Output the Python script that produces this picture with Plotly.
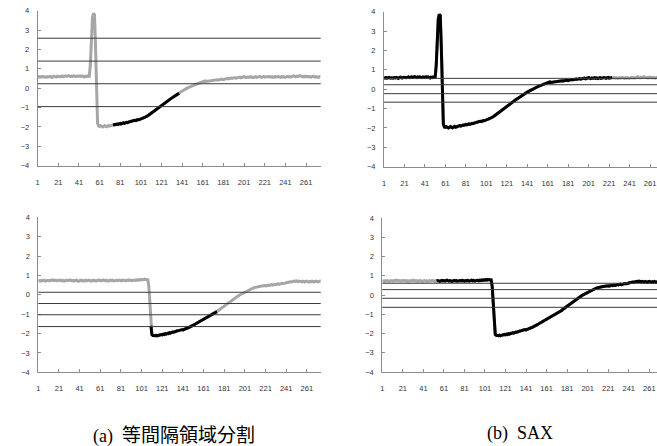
import plotly.graph_objects as go

# ---------------- data ----------------
series_a = [
    0.62, 0.58, 0.60, 0.57, 0.59, 0.61, 0.58, 0.60, 0.59, 0.57,
    0.60, 0.58, 0.61, 0.59, 0.56, 0.60, 0.62, 0.59, 0.58, 0.61,
    0.60, 0.62, 0.59, 0.61, 0.63, 0.60, 0.62, 0.64, 0.61, 0.63,
    0.65, 0.62, 0.60, 0.63, 0.61, 0.64, 0.62, 0.60, 0.63, 0.61,
    0.62, 0.64, 0.61, 0.63, 0.60, 0.58, 0.62, 0.60, 0.63, 0.61,
    0.62,
    1.20, 2.60, 3.60, 3.86, 3.80, 2.20, -0.60,
    -1.80, -1.95,
    -1.97, -1.94, -1.98, -2.00, -1.96, -1.93, -1.97, -1.99, -1.95, -1.92,
    -1.96, -1.94, -1.91, -1.90,
    -1.88, -1.90, -1.86, -1.85, -1.87, -1.83, -1.82, -1.84, -1.80, -1.79,
    -1.81, -1.77, -1.76, -1.78, -1.74, -1.73, -1.72, -1.70, -1.71, -1.68,
    -1.66, -1.67, -1.64, -1.62, -1.63, -1.60,
    -1.58, -1.57, -1.55, -1.52, -1.50, -1.48, -1.45, -1.41, -1.37, -1.33,
    -1.28, -1.24, -1.19, -1.14, -1.10, -1.05, -1.01, -0.97, -0.93, -0.89,
    -0.85, -0.82, -0.78, -0.75, -0.70, -0.67, -0.64, -0.60, -0.57, -0.53,
    -0.50, -0.47, -0.43, -0.40, -0.36, -0.33, -0.29, -0.26,
    -0.22, -0.19, -0.15, -0.12, -0.08, -0.05, -0.02, 0.01, 0.04, 0.06,
    0.09, 0.11, 0.13, 0.15, 0.17, 0.19, 0.21, 0.23, 0.24, 0.26,
    0.28, 0.30,
    0.32, 0.36, 0.38, 0.35, 0.36, 0.38, 0.37, 0.39, 0.41, 0.40,
    0.42, 0.41, 0.43, 0.45, 0.44, 0.43, 0.46, 0.45, 0.47, 0.46,
    0.44, 0.47, 0.49, 0.48, 0.50, 0.49, 0.51, 0.50, 0.52, 0.51,
    0.53, 0.55, 0.52, 0.54, 0.56, 0.55, 0.57, 0.54, 0.56, 0.58,
    0.60, 0.57, 0.55, 0.58, 0.56, 0.57, 0.59, 0.56, 0.58, 0.55,
    0.57, 0.59, 0.56, 0.58, 0.57, 0.60, 0.58, 0.56, 0.59, 0.61,
    0.57, 0.59, 0.58, 0.60,
    0.58, 0.60, 0.57, 0.59, 0.56, 0.58, 0.60, 0.57, 0.59, 0.61,
    0.58, 0.56, 0.59, 0.57, 0.60, 0.58, 0.56, 0.59, 0.61, 0.58,
    0.60, 0.57, 0.59, 0.62, 0.64, 0.61, 0.59, 0.62, 0.60, 0.63,
    0.65, 0.62, 0.60, 0.58, 0.61, 0.59, 0.62, 0.60, 0.58, 0.61,
    0.59, 0.57, 0.60, 0.62, 0.59, 0.57, 0.60, 0.58, 0.56, 0.59,
    0.57,
]

series_b = [
    0.70, 0.73, 0.71, 0.74, 0.72, 0.75, 0.73, 0.71, 0.74, 0.76,
    0.74, 0.72, 0.75, 0.77, 0.74, 0.76, 0.73, 0.75, 0.72, 0.74,
    0.76, 0.73, 0.75, 0.72, 0.74, 0.71, 0.73, 0.75, 0.72, 0.74,
    0.77, 0.73, 0.75, 0.72, 0.74, 0.71, 0.73, 0.76, 0.72, 0.70,
    0.73, 0.75, 0.72, 0.74, 0.71, 0.73, 0.75, 0.72, 0.74, 0.76,
    0.73, 0.71, 0.74, 0.72, 0.75, 0.73, 0.71, 0.74, 0.76, 0.73,
    0.75, 0.72, 0.74, 0.77, 0.74, 0.72, 0.75, 0.73, 0.71, 0.74,
    0.76, 0.73, 0.75, 0.72, 0.74, 0.77, 0.75, 0.73, 0.76, 0.74,
    0.72, 0.75, 0.73, 0.76, 0.74, 0.72, 0.75, 0.77, 0.74, 0.76,
    0.73, 0.75, 0.78, 0.76, 0.74, 0.77, 0.75, 0.78, 0.76, 0.79,
    0.77, 0.80, 0.78, 0.81, 0.79, 0.80, 0.78,
    0.45, -0.60, -1.60, -2.05,
    -2.10, -2.12, -2.11, -2.09, -2.12, -2.10, -2.08, -2.10, -2.05, -2.07,
    -2.03,
    -2.05, -2.01, -2.03, -1.99, -2.00, -1.96, -1.98, -1.94, -1.92, -1.93,
    -1.90, -1.88, -1.87,
    -1.86, -1.84, -1.85, -1.82, -1.80, -1.81, -1.78, -1.76, -1.74, -1.72,
    -1.70, -1.68, -1.66, -1.63, -1.60,
    -1.57, -1.54, -1.51, -1.48, -1.45, -1.42, -1.39, -1.35, -1.31, -1.27,
    -1.24, -1.21, -1.18, -1.15, -1.12, -1.09, -1.06, -1.03, -1.00, -0.98,
    -0.95, -0.92, -0.90, -0.87,
    -0.83, -0.79, -0.74, -0.70, -0.66, -0.61, -0.57, -0.53, -0.48, -0.44,
    -0.40, -0.36, -0.32, -0.28, -0.25, -0.21, -0.18, -0.14, -0.11, -0.07,
    -0.04, -0.01, 0.02, 0.05, 0.08, 0.11, 0.15, 0.18, 0.21, 0.23,
    0.26, 0.28, 0.30, 0.33, 0.35, 0.37, 0.39, 0.40, 0.42, 0.41,
    0.43, 0.44,
    0.45, 0.46, 0.44, 0.47, 0.48, 0.46, 0.49, 0.50, 0.48, 0.51,
    0.52, 0.50, 0.53, 0.54, 0.52, 0.55, 0.56, 0.54, 0.57, 0.57,
    0.59, 0.58, 0.61, 0.60, 0.62, 0.64, 0.63, 0.65, 0.67, 0.66,
    0.68, 0.70, 0.71, 0.69, 0.72, 0.70, 0.68, 0.71, 0.69, 0.67,
    0.70, 0.68, 0.66, 0.69, 0.71, 0.68, 0.66, 0.69, 0.67, 0.70,
    0.68, 0.66, 0.69, 0.71, 0.68, 0.67, 0.70, 0.72, 0.69,
]

# breakpoints (horizontal lines) per panel
levels_tl = [2.58, 1.40, 0.23, -0.95]    # (a) top
levels_tr = [0.56, 0.23, -0.23, -0.67]   # (b) top
levels_bl = [0.13, -0.45, -1.03, -1.64]  # (a) bottom
levels_br = [0.61, 0.28, -0.17, -0.64]   # (b) bottom

# highlighted (black) index ranges, 1-based inclusive
hl_tl = (74, 138)
hl_tr = (1, 224)
hl_bl = (110, 174)
hl_br = (54, 275)

x_ticks = list(range(1, 262, 20))
x_ticklabels = [str(v) for v in x_ticks]
y_ticks = [-4, -3, -2, -1, 0, 1, 2, 3, 4]
caption_tags = ["(a)", "(b)"]
caption_texts = ["等間隔領域分割", "SAX"]

# ---------------- figure ----------------
W, H = 657, 446
GRAY = "#a6a6a6"
AXIS = "#8c8c8c"

panels = [
    # (series, levels, highlight, xaxis id, yaxis id, x domain px, y domain px, xmax)
    (series_a, levels_tl, hl_tl, "x", "y", (37.7, 320.7), (10.7, 165.7), 275.2),
    (series_a, levels_tr, hl_tr, "x2", "y2", (384.0, 657.0), (11.7, 166.7), 267.8),
    (series_b, levels_bl, hl_bl, "x3", "y3", (38.3, 320.7), (217.3, 372.3), 274.4),
    (series_b, levels_br, hl_br, "x4", "y4", (382.3, 657.0), (218.0, 372.0), 268.5),
]

fig = go.Figure()
shapes = []
layout = dict(
    width=W, height=H, margin=dict(l=0, r=0, t=0, b=0),
    paper_bgcolor="white", plot_bgcolor="white", showlegend=False,
    template="none",
)

tickfont = dict(family="Liberation Sans", size=7.5, color="#333333")

for series, levels, hl, xa, ya, (x0, x1), (y0, y1), xmax in panels:
    xs = list(range(1, len(series) + 1))
    xkey = "xaxis" + xa[1:]
    ykey = "yaxis" + ya[1:]
    layout[xkey] = dict(
        domain=[x0 / W, x1 / W], range=[1, xmax], anchor=ya,
        tickmode="array", tickvals=x_ticks, ticktext=x_ticklabels,
        ticks="inside", ticklen=3, tickcolor=AXIS, tickwidth=1,
        showline=True, linecolor=AXIS, linewidth=1, mirror=False,
        showgrid=False, zeroline=False, tickfont=tickfont,
        ticklabelstandoff=9,
    )
    layout[ykey] = dict(
        domain=[1 - y1 / H, 1 - y0 / H], range=[-4, 4], anchor=xa,
        tickmode="array", tickvals=y_ticks,
        ticks="inside", ticklen=3, tickcolor=AXIS, tickwidth=1,
        showline=True, linecolor=AXIS, linewidth=1, mirror=False,
        showgrid=False, zeroline=False, tickfont=tickfont,
        ticklabelstandoff=6,
    )
    # full series in gray
    fig.add_trace(go.Scatter(
        x=xs, y=series, xaxis=xa, yaxis=ya, mode="lines",
        line=dict(color=GRAY, width=3), hoverinfo="skip",
    ))
    # highlighted segment in black
    s, e = hl
    fig.add_trace(go.Scatter(
        x=xs[s - 1:e], y=series[s - 1:e], xaxis=xa, yaxis=ya, mode="lines",
        line=dict(color="#000000", width=3), hoverinfo="skip",
    ))
    for lv in levels:
        shapes.append(dict(
            type="line", xref=xa + " domain", yref=ya,
            x0=0, x1=1, y0=lv, y1=lv,
            line=dict(color="#3a3a3a", width=1), layer="above",
        ))

layout["shapes"] = shapes
cap_a = (caption_tags[0] + "\u2002<span style='font-family:Noto Sans CJK JP;font-size:19px'>"
         + caption_texts[0] + "</span>")
cap_b = caption_tags[1] + "\u2002" + caption_texts[1]
layout["annotations"] = [
    dict(text=cap_a, x=173.5 / W, y=1 - 433 / H, xref="paper", yref="paper",
         showarrow=False, xanchor="center", yanchor="middle",
         font=dict(family="Liberation Serif", size=18, color="#000")),
    dict(text=cap_b, x=519.5 / W, y=1 - 433 / H, xref="paper", yref="paper",
         showarrow=False, xanchor="center", yanchor="middle",
         font=dict(family="Liberation Serif", size=18, color="#000")),
]
fig.update_layout(**layout)
fig.write_html("out.html")
